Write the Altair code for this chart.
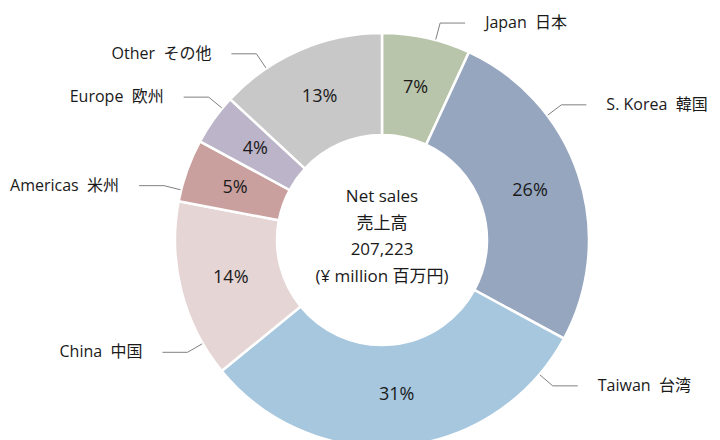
import math
import altair as alt
import pandas as pd

# ---- data ----
regions = ["Japan", "S. Korea", "Taiwan", "China", "Americas", "Europe", "Other"]
regions_ja = ["日本", "韓国", "台湾", "中国", "米州", "欧州", "その他"]
shares = [6.9, 26.0, 31.2, 13.9, 4.9, 4.0, 13.1]
share_labels = ["7%", "26%", "31%", "14%", "5%", "4%", "13%"]
center_lines = ["Net sales", "売上高", "207,223", "(¥ million 百万円)"]

# ---- style / layout ----
colors = ["#B9C5AB", "#96A6BF", "#A6C7DE", "#E5D5D5", "#C9A09E", "#BCB4C8", "#C8C8C8"]
leader_angles = [15, 53, 130.5, 240, 284, 309.5, 326]  # degrees clockwise from 12 o'clock
FONT = "Open Sans, Noto Sans CJK JP"
TEXT_COLOR = "#1A1A1A"
W, H = 704, 432
CX, CY = 374, 232
R_OUT, R_IN = 207, 105
R_LABEL = 156
ELBOW_R = 1.085
H_LEN = 25 / R_OUT
GAP = 20 / R_OUT
LINE_H = 26.5

total = sum(shares)
rows = []
acc = 0.0
for r, ja, s, lab in zip(regions, regions_ja, shares, share_labels):
    start = acc / total
    acc += s
    end = acc / total
    rows.append(dict(region=r, start=start, end=end, mid=(start + end) / 2, pct=lab, cx=0.0, cy=0.0))
df = pd.DataFrame(rows)

lead_rows, lab_rows = [], []
for r, ja, a in zip(regions, regions_ja, leader_angles):
    ux, uy = math.sin(math.radians(a)), math.cos(math.radians(a))
    side = 1 if ux > 0 else -1
    ex, ey = ELBOW_R * ux, ELBOW_R * uy
    pts = [(1.003 * ux, 1.003 * uy), (ex, ey), (ex + side * H_LEN, ey)]
    for k, (px, py) in enumerate(pts):
        lead_rows.append(dict(region=r, k=k, lx=px, ly=py))
    lab_rows.append(dict(region=r, label=f"{r}\u00a0\u00a0{ja}", tx=ex + side * (H_LEN + GAP), ty=ey, side=side))
lead_df = pd.DataFrame(lead_rows)
lab_df = pd.DataFrame(lab_rows)

xs = alt.Scale(domain=[-CX / R_OUT, (W - CX) / R_OUT], nice=False, zero=False)
ys = alt.Scale(domain=[-(H - CY) / R_OUT, CY / R_OUT], nice=False, zero=False)
ts = alt.Scale(domain=[0, 1], range=[0, 2 * math.pi])
cs = alt.Scale(domain=regions, range=colors)

X0 = alt.X("cx:Q", scale=xs, axis=None)
Y0 = alt.Y("cy:Q", scale=ys, axis=None)

arcs = alt.Chart(df).mark_arc(
    outerRadius=R_OUT, innerRadius=R_IN, stroke="white", strokeWidth=2.5
).encode(
    x=X0, y=Y0,
    theta=alt.Theta("start:Q", scale=ts, stack=False),
    theta2="end:Q",
    color=alt.Color("region:N", scale=cs, legend=None),
)

pct = alt.Chart(df).mark_text(
    radius=R_LABEL, font=FONT, fontSize=18, color=TEXT_COLOR, baseline="middle", align="center"
).encode(
    x=X0, y=Y0,
    theta=alt.Theta("mid:Q", scale=ts, stack=False),
    text="pct:N",
)

center = alt.Chart(df.head(1)).mark_text(
    font=FONT, fontSize=17, color=TEXT_COLOR, lineHeight=LINE_H, baseline="middle", align="center",
    dy=-3 - LINE_H * (len(center_lines) - 1) / 2,
).encode(x=X0, y=Y0, text=alt.value(center_lines))

leaders = alt.Chart(lead_df).mark_line(color="#808080", strokeWidth=1).encode(
    x=alt.X("lx:Q", scale=xs, axis=None),
    y=alt.Y("ly:Q", scale=ys, axis=None),
    detail="region:N",
    order="k:Q",
)

lab_right = alt.Chart(lab_df[lab_df.side > 0]).mark_text(
    font=FONT, fontSize=16, color=TEXT_COLOR, align="left", baseline="middle"
).encode(x=alt.X("tx:Q", scale=xs, axis=None), y=alt.Y("ty:Q", scale=ys, axis=None), text="label:N")

lab_left = alt.Chart(lab_df[lab_df.side < 0]).mark_text(
    font=FONT, fontSize=16, color=TEXT_COLOR, align="right", baseline="middle"
).encode(x=alt.X("tx:Q", scale=xs, axis=None), y=alt.Y("ty:Q", scale=ys, axis=None), text="label:N")

chart = alt.layer(arcs, leaders, pct, center, lab_right, lab_left).properties(
    width=W, height=H, autosize=alt.AutoSizeParams(type="none"), padding=0, background="white"
).configure_view(strokeWidth=0)

chart.save("out.html", embed_options={"renderer": "svg", "actions": False})
